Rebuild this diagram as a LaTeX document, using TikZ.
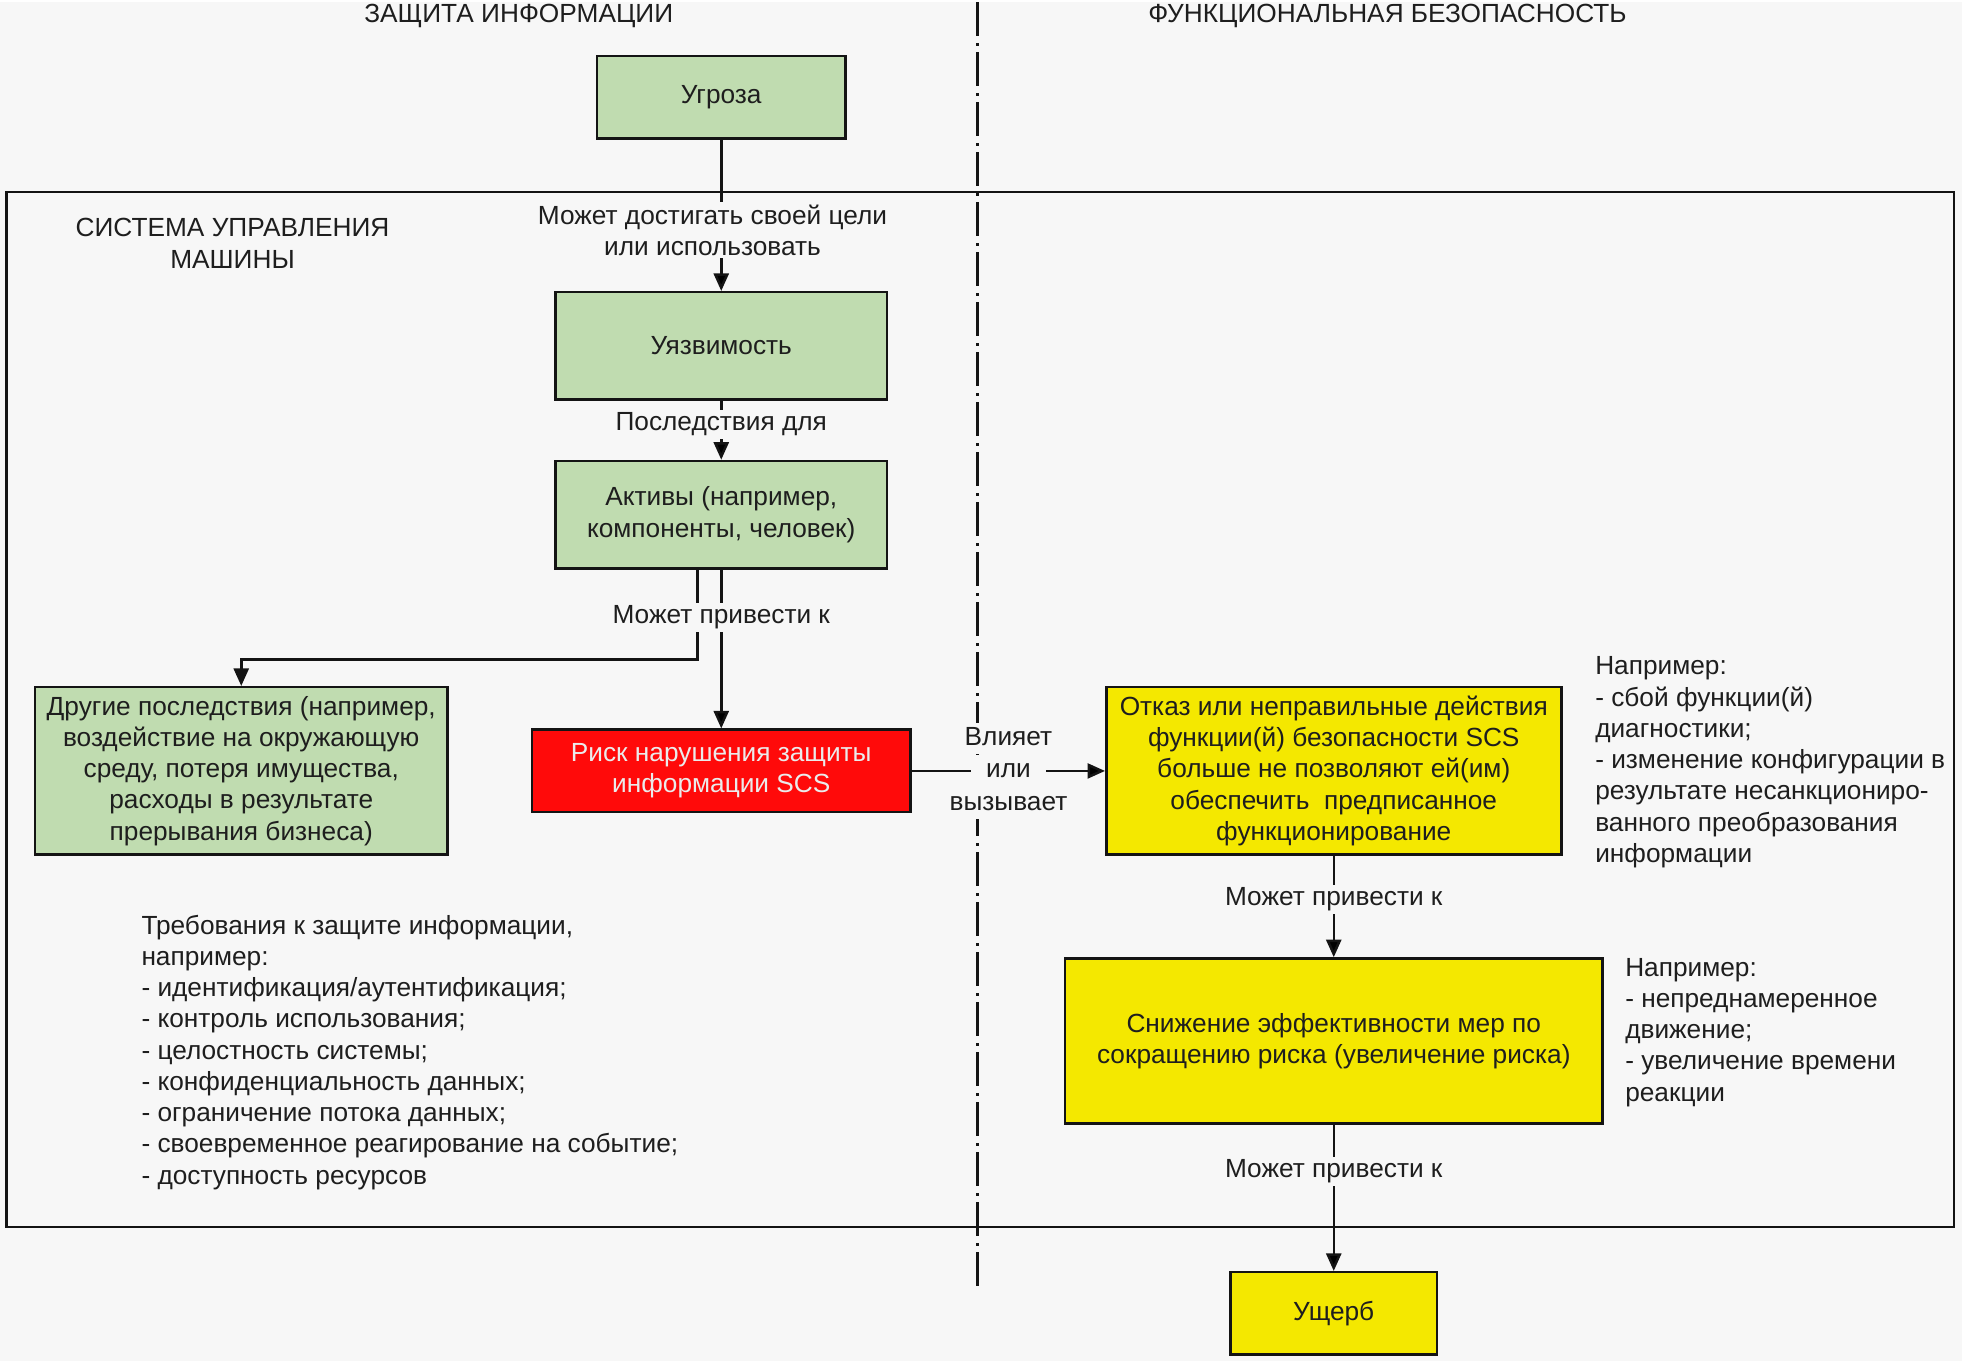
\documentclass[tikz,border=0pt]{standalone}
\usepackage{fontspec}
\setmainfont{Liberation Sans}
\usetikzlibrary{arrows.meta,positioning}

\definecolor{bggray}{HTML}{F7F7F7}
\definecolor{boxgreen}{HTML}{C0DCB0}
\definecolor{boxyellow}{HTML}{F4E800}
\definecolor{boxred}{HTML}{FF0A0A}
\definecolor{inktext}{HTML}{1E1E1E}
\definecolor{inkline}{HTML}{141414}

\begin{document}
\begin{tikzpicture}[x=1pt, y=-1pt, font=\fontsize{21}{25}\selectfont, text=inktext]
    \tikzstyle{plain box}=[
        draw = inkline,
        line width = 2pt,
        rectangle,
        align = center,
        inner sep = 0pt
    ]
    \tikzstyle{green box}=[plain box, fill = boxgreen]
    \tikzstyle{yellow box}=[plain box, fill = boxyellow]
    \tikzstyle{red box}=[plain box, fill = boxred, text = white!92!black]
    \tikzstyle{flow}=[-{Triangle[length=14pt,width=12pt]}, line width = 2pt, draw = inkline]
    \tikzstyle{flow label}=[fill = bggray, align = center, inner xsep = 3pt, inner ysep = 2pt]
    \tikzstyle{stack label}=[flow label, text height = 15pt, text depth = 4pt, inner ysep = 3pt]
    \tikzstyle{note}=[align = left, anchor = west, inner sep = 0pt]

    \fill[bggray] (0, 0) rectangle (1569.6, 1087.2);

    \node (infosec)  at (415, 11)  {ЗАЩИТА ИНФОРМАЦИИ};
    \node (funcsafe) at (1110, 11) {ФУНКЦИОНАЛЬНАЯ БЕЗОПАСНОСТЬ};

    \draw[inkline, line width = 2pt, dash pattern = on 27pt off 6pt on 2pt off 5pt] (782, 0) -- (782, 1030);
    \draw[inkline, line width = 2pt] (5, 152) rectangle (1563, 980);
    \node[align = center] (scs) at (186, 193) {СИСТЕМА УПРАВЛЕНИЯ\\МАШИНЫ};

    \node[green box, minimum width = 199pt, minimum height = 66pt]  (threat) at (577, 76)  {Угроза};
    \node[green box, minimum width = 265pt, minimum height = 86pt]  (vuln)   at (577, 275) {Уязвимость};
    \node[green box, minimum width = 265pt, minimum height = 86pt]  (assets) at (577, 410) {Активы (например,\\компоненты, человек)};
    \node[green box, minimum width = 330pt, minimum height = 134pt] (other)  at (193, 615) {Другие последствия (например,\\воздействие на окружающую\\среду, потеря имущества,\\расходы в результате\\прерывания бизнеса)};
    \node[red box, minimum width = 303pt, minimum height = 66pt]    (risk)   at (577, 615) {Риск нарушения защиты\\информации SCS};
    \node[yellow box, minimum width = 364pt, minimum height = 134pt] (fail)  at (1067, 615) {Отказ или неправильные действия\\функции(й) безопасности SCS\\больше не позволяют ей(им)\\обеспечить \ предписанное\\функционирование};
    \node[yellow box, minimum width = 430pt, minimum height = 132pt] (reduce) at (1067, 831) {Снижение эффективности мер по\\сокращению риска (увеличение риска)};
    \node[yellow box, minimum width = 165pt, minimum height = 66pt] (harm)   at (1067, 1049) {Ущерб};

    \node[note] (reqs) at (113, 840) {Требования к защите информации,\\например:\\- идентификация/аутентификация;\\- контроль использования;\\- целостность системы;\\- конфиденциальность данных;\\- ограничение потока данных;\\- своевременное реагирование на событие;\\- доступность ресурсов};
    \node[note] (failex)   at (1276, 608) {Например:\\- сбой функции(й)\\диагностики;\\- изменение конфигурации в\\результате несанкциониро-\\ванного преобразования\\информации};
    \node[note] (reduceex) at (1300, 824) {Например:\\- непреднамеренное\\движение;\\- увеличение времени\\реакции};

    \draw[flow] ([xshift=-19pt]assets.south) -- ++(0, 72) -| (other.north);

    \path[flow] (threat) edge node[flow label, pos = 0.6, xshift = -7pt] {Может достигать своей цели\\или использовать} (vuln);
    \path[flow] (vuln)   edge node[flow label, pos = 0.4] {Последствия для} (assets);
    \path[flow] (assets) edge node[flow label, pos = 0.3] {Может привести к} (risk);
    \path[flow] (risk)   edge node[stack label, inner xsep = 12pt] (orlbl) {или} (fail);
    \node[stack label, above = 0pt of orlbl] (affects) {Влияет};
    \node[stack label, below = 0pt of orlbl] (causes)  {вызывает};
    \path[flow] (fail)   edge node[flow label, pos = 0.43] {Может привести к} (reduce);
    \path[flow] (reduce) edge node[flow label, pos = 0.32] {Может привести к} (harm);

\end{tikzpicture}
\end{document}
